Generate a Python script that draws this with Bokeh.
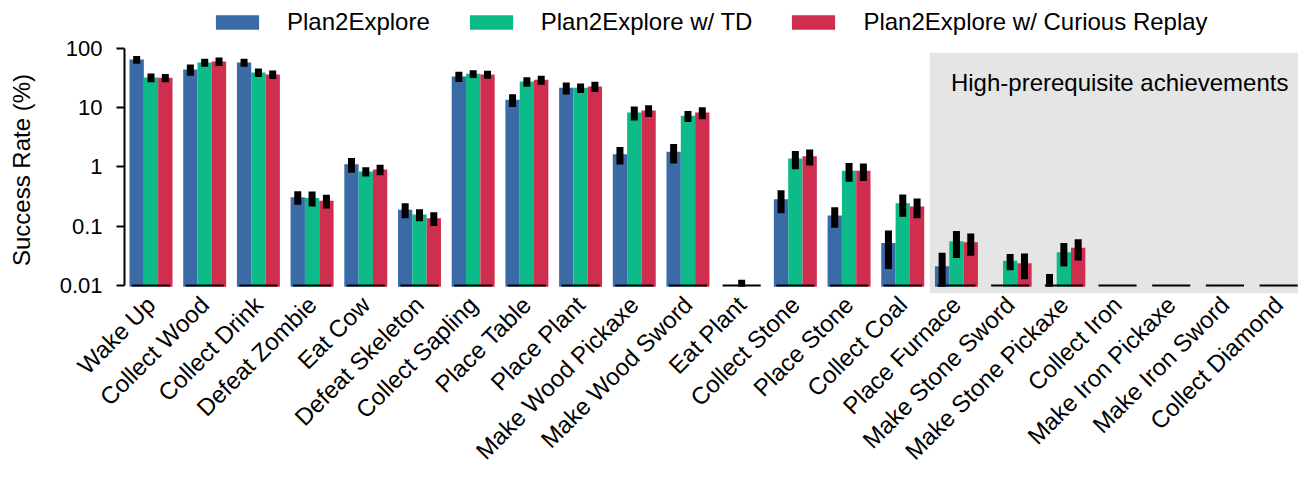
import numpy as np
from bokeh.plotting import figure
from bokeh.layouts import column
from bokeh.models import (Range1d, FixedTicker, BoxAnnotation, Label, Legend,
                          LegendItem, ColumnDataSource)
from bokeh.embed import file_html
from bokeh.resources import INLINE

# ---------------- data ----------------
categories = ["Wake Up", "Collect Wood", "Collect Drink", "Defeat Zombie", "Eat Cow",
              "Defeat Skeleton", "Collect Sapling", "Place Table", "Place Plant",
              "Make Wood Pickaxe", "Make Wood Sword", "Eat Plant", "Collect Stone",
              "Place Stone", "Collect Coal", "Place Furnace", "Make Stone Sword",
              "Make Stone Pickaxe", "Collect Iron", "Make Iron Pickaxe",
              "Make Iron Sword", "Collect Diamond"]

series_names = ["Plan2Explore", "Plan2Explore w/ TD", "Plan2Explore w/ Curious Replay"]

p2e = [65.0, 44.0, 58.0, 0.31, 1.11, 0.19, 33.7, 13.6, 21.7, 1.64, 1.80, 0.0,
       0.286, 0.152, 0.052, 0.0212, 0.0, 0.005, 0.0, 0.0, 0.0, 0.0]
p2e_err = [10.0, 9.5, 9.0, 0.08, 0.31, 0.054, 6.6, 3.3, 5.0, 0.54, 0.65, 0.0,
           0.12, 0.058, 0.033, 0.0144, 0.0, 0.0107, 0.0, 0.0, 0.0, 0.0]

td = [32.4, 58.0, 39.4, 0.30, 0.84, 0.158, 37.4, 27.7, 21.7, 8.3, 7.3, 0.003,
      1.39, 0.863, 0.245, 0.056, 0.0261, 0.0365, 0.0, 0.0, 0.0, 0.0]
td_err = [5.4, 9.0, 6.4, 0.085, 0.15, 0.036, 5.7, 5.0, 3.9, 2.2, 1.55, 0.0095,
          0.47, 0.30, 0.10, 0.027, 0.008, 0.0155, 0.0, 0.0, 0.0, 0.0]

cr = [32.1, 60.4, 36.4, 0.269, 0.908, 0.137, 36.4, 29.6, 22.9, 9.0, 8.3, 0.0,
      1.52, 0.863, 0.215, 0.0538, 0.0238, 0.0433, 0.0, 0.0, 0.0, 0.0]
cr_err = [5.1, 9.7, 6.0, 0.07, 0.18, 0.036, 5.7, 5.2, 4.5, 2.0, 1.9, 0.0,
          0.46, 0.28, 0.078, 0.022, 0.011, 0.017, 0.0, 0.0, 0.0, 0.0]

y_ticks = [0.01, 0.1, 1, 10, 100]
y_tick_labels = ["0.01", "0.1", "1", "10", "100"]

first_high_prereq = "Place Furnace"
region_label = "High-prerequisite achievements"
y_label = "Success Rate (%)"

# ---------------- style ----------------
colors = ["#3A6BA7", "#0DBB89", "#D02E4F"]
FONT = "Liberation Sans"
TXT = "#000000"
FLOOR = 0.0095
BAR_W = 0.2667
W = 1298
LEG_H = 36
n = len(categories)

# ---------------- main chart ----------------
p = figure(width=W, height=480 - LEG_H, output_backend="svg", toolbar_location=None,
           y_axis_type="log",
           x_range=Range1d(-0.4935, 21.37), y_range=Range1d(0.00733, 108.0),
           min_border_left=124, min_border_right=0, min_border_top=10,
           min_border_bottom=187)
p.outline_line_color = None
p.xgrid.grid_line_color = None
p.ygrid.grid_line_color = None
p.background_fill_color = "white"
p.border_fill_color = "white"

hp_idx = categories.index(first_high_prereq)
p.add_layout(BoxAnnotation(left=hp_idx - 0.5, top=84.6, fill_color="#e5e5e5",
                           fill_alpha=1.0, line_color=None, level="underlay"))

all_vals = [p2e, td, cr]
all_errs = [p2e_err, td_err, cr_err]
for k, vals in enumerate(all_vals):
    xs = [i + (k - 1) * BAR_W for i in range(n)]
    tops = [max(v, FLOOR) for v in vals]
    src = ColumnDataSource(dict(x=xs, top=tops, bottom=[FLOOR] * n))
    p.vbar(x="x", top="top", bottom="bottom", width=BAR_W, source=src,
           fill_color=colors[k], line_color=None)

gx = list(range(n))
p.segment(x0=[i - 0.355 for i in gx], x1=[i + 0.355 for i in gx],
          y0=[0.01] * n, y1=[0.01] * n, line_color="black", line_width=2)

for k, (vals, errs) in enumerate(zip(all_vals, all_errs)):
    xs = [i + (k - 1) * BAR_W for i in range(n)]
    lo = [max(v - e, FLOOR) for v, e in zip(vals, errs)]
    hi = [max(v + e, FLOOR) for v, e in zip(vals, errs)]
    p.segment(x0=xs, x1=xs, y0=lo, y1=hi, line_color="black", line_width=7,
              line_cap="butt")

p.add_layout(Label(x=18.04, y=26.7, text=region_label, text_align="center",
                   text_baseline="alphabetic", text_font_size="24px",
                   text_font=FONT, text_color=TXT))

p.yaxis.ticker = FixedTicker(ticks=y_ticks)
p.yaxis.major_label_overrides = {float(t): l for t, l in zip(y_ticks, y_tick_labels)}
p.yaxis.bounds = (y_ticks[0], y_ticks[-1])
p.yaxis.axis_label = y_label
p.yaxis.axis_label_text_font = FONT
p.yaxis.axis_label_text_font_size = "24px"
p.yaxis.axis_label_text_font_style = "normal"
p.yaxis.axis_label_text_color = TXT
p.yaxis.axis_label_standoff = 22
p.yaxis.major_label_text_font = FONT
p.yaxis.major_label_text_font_size = "22px"
p.yaxis.major_label_text_color = TXT
p.yaxis.major_label_standoff = 14
p.yaxis.major_tick_out = 8
p.yaxis.major_tick_in = 0
p.yaxis.major_tick_line_width = 2
p.yaxis.major_tick_line_color = "black"
p.yaxis.axis_line_width = 2
p.yaxis.axis_line_color = "black"
p.yaxis.minor_tick_line_color = None

p.xaxis.ticker = FixedTicker(ticks=list(range(n)))
p.xaxis.major_label_overrides = {i: c for i, c in enumerate(categories)}
p.xaxis.major_label_orientation = np.pi / 4
p.xaxis.major_label_text_font = FONT
p.xaxis.major_label_text_font_size = "24px"
p.xaxis.major_label_text_color = TXT
p.xaxis.axis_line_color = None
p.xaxis.major_tick_line_color = None
p.xaxis.minor_tick_line_color = None
p.xaxis.major_tick_out = 0
p.xaxis.major_tick_in = 0
p.xaxis.major_label_standoff = 7

# ---------------- legend strip ----------------
lf = figure(width=W, height=LEG_H, output_backend="svg", toolbar_location=None,
            x_range=Range1d(0, 1), y_range=Range1d(0, 1),
            x_axis_location=None, y_axis_location=None,
            min_border=0, min_border_left=0, min_border_right=0,
            min_border_top=0, min_border_bottom=0)
lf.grid.visible = False
lf.xgrid.grid_line_color = None
lf.ygrid.grid_line_color = None
lf.outline_line_color = None
lf.background_fill_alpha = 0
lf.border_fill_alpha = 0
# zero-area swatch renderers: only their legend glyphs are visible
swatches = [lf.vbar(x=[0.5], top=[0.5], bottom=[0.5], width=0.0, fill_color=c,
                    line_color=None) for c in colors]
leg = Legend(items=[LegendItem(label=nm, renderers=[r])
                    for nm, r in zip(series_names, swatches)],
             location=(86, 0), orientation="horizontal", spacing=34,
             padding=0, margin=0, border_line_color=None,
             background_fill_alpha=0, glyph_width=54, glyph_height=18,
             label_standoff=23, label_text_font=FONT, label_text_color=TXT,
             label_text_font_size="24px")
lf.add_layout(leg)

layout = column(lf, p, spacing=0)
open("out.html", "w").write(file_html(layout, INLINE))
